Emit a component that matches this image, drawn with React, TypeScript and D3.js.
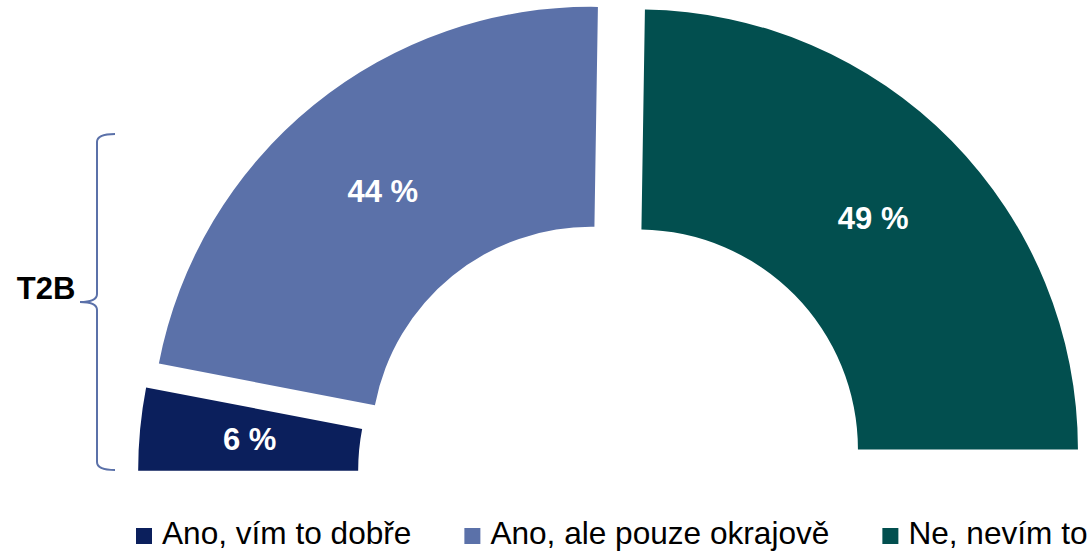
import React, { useEffect, useRef } from "react";
import * as d3 from "d3";

const categories = ["Ano, vím to dobře", "Ano, ale pouze okrajově", "Ne, nevím to"];
const values = [6, 44, 49];
const colors = ["#0B1F5C", "#5B71A9", "#024F4F"];
const bracketLabel = "T2B";

const App = () => {
  const chartRef = useRef<SVGSVGElement>(null);

  useEffect(() => {
    const width = 1089;
    const height = 551;
    const cx = 613;
    const cy = 474;
    const innerRadius = 220;
    const outerRadius = 440;
    const explode = 35;
    const font = "'Liberation Sans', Arial, sans-serif";

    const svg = d3.select(chartRef.current);
    svg.selectAll("*").remove();
    svg
      .attr("width", width)
      .attr("height", height)
      .attr("viewBox", [0, 0, width, height].join(" "))
      .style("position", "absolute")
      .style("left", "0px")
      .style("top", "0px")
      .style("background", "#fff");

    const pie = d3
      .pie<number>()
      .sort(null)
      .startAngle(-Math.PI / 2)
      .endAngle(Math.PI / 2);
    const arcs = pie(values);
    const arc = d3.arc<d3.PieArcDatum<number>>().innerRadius(innerRadius).outerRadius(outerRadius);

    // each slice pushed out along its bisector
    const shift = (d: d3.PieArcDatum<number>) => {
      const a = (d.startAngle + d.endAngle) / 2;
      return [cx + explode * Math.sin(a), cy - explode * Math.cos(a)];
    };

    const slice = svg
      .append("g")
      .selectAll("g")
      .data(arcs)
      .join("g")
      .attr("transform", (d) => `translate(${shift(d).join(",")})`);

    slice
      .append("path")
      .attr("d", arc)
      .attr("fill", (d, i) => colors[i]);

    slice
      .append("text")
      .attr("transform", (d) => `translate(${arc.centroid(d).join(",")})`)
      .attr("text-anchor", "middle")
      .attr("dy", "0.36em")
      .attr("fill", "#fff")
      .attr("font-family", font)
      .attr("font-weight", "bold")
      .attr("font-size", 31)
      .text((d) => `${d.data} %`);

    // T2B bracket
    svg
      .append("path")
      .attr(
        "d",
        "M115,134 Q97,134 97,142 L97,294 Q97,302 80,302 Q97,302 97,310 L97,462 Q97,470 115,470"
      )
      .attr("fill", "none")
      .attr("stroke", colors[1])
      .attr("stroke-width", 2);

    svg
      .append("text")
      .attr("x", 46)
      .attr("y", 288)
      .attr("dy", "0.36em")
      .attr("text-anchor", "middle")
      .attr("font-family", font)
      .attr("font-weight", "bold")
      .attr("font-size", 31)
      .attr("fill", "#000")
      .text(bracketLabel);

    // legend
    const legend = svg.append("g").attr("transform", "translate(136,544)");
    let x = 0;
    categories.forEach((c, i) => {
      const item = legend.append("g").attr("transform", `translate(${x},0)`);
      item
        .append("rect")
        .attr("x", 0)
        .attr("y", -16)
        .attr("width", 16)
        .attr("height", 16)
        .attr("fill", colors[i]);
      const t = item
        .append("text")
        .attr("x", 26)
        .attr("y", 0)
        .attr("font-family", font)
        .attr("font-size", 31.6)
        .attr("fill", "#000")
        .text(c);
      const w = (t.node() as SVGTextElement).getComputedTextLength();
      x += 26 + w + 53;
    });
  }, []);

  return <svg ref={chartRef}></svg>;
};

export default App;
